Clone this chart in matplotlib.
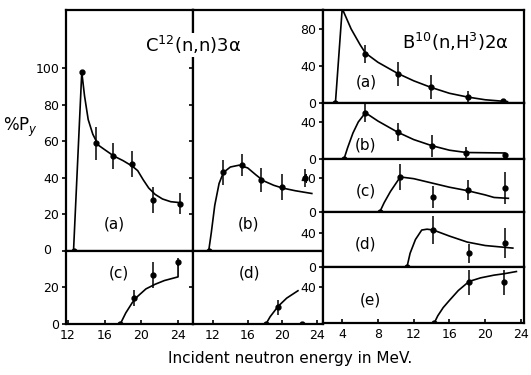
import matplotlib.pyplot as plt

# C12(n,n)3alpha -- panel (a), left column
ca_E = [12.6, 13.5, 15.05, 16.9, 19.0, 21.3, 24.2]
ca_P = [0, 98, 59, 52, 47.5, 28, 26]
ca_err = [0, 0, 9, 7, 7, 7, 6]
ca_curve_E = [12.6, 13.5, 13.8, 14.2, 14.7, 15.3, 16.0, 17.0, 18.0, 19.0, 19.6, 20.2, 20.8, 21.5, 22.3, 23.2, 24.2]
ca_curve_P = [0, 98, 85, 72, 64, 58, 55.5, 52, 49.5, 46.5, 44, 39, 34.5, 31, 28.5, 27, 26.5]

# panel (c), left column
cc_E = [17.7, 19.2, 21.3, 24.0]
cc_P = [0, 14, 26.5, 33.5]
cc_err = [0, 4.5, 7, 2]
cc_curve_E = [17.7, 18.3, 19.0, 19.6, 20.5, 21.5, 22.5, 24.0, 24.0]
cc_curve_P = [0, 6, 11.5, 15, 19, 21.5, 23.5, 25.5, 33.5]

# panel (b), middle column
cb_E = [11.5, 13.2, 15.35, 17.5, 19.95, 22.6]
cb_P = [0, 43, 47, 39, 35, 40]
cb_err = [0, 7, 6, 6.5, 7, 5]
cb_curve_E = [11.5, 11.8, 12.2, 12.7, 13.2, 14.0, 15.0, 16.0, 17.0, 17.8, 19.0, 20.0, 21.5, 23.4]
cb_curve_P = [0, 10, 25, 37, 43, 46, 47, 45.5, 41.5, 38.5, 36, 34.5, 33, 31.5]

# panel (d), middle column
cd_E = [18.1, 19.5, 22.3]
cd_P = [0, 9, 0]
cd_err = [0, 4, 0]
cd_curve_E = [18.1, 18.6, 19.5, 20.5, 21.8]
cd_curve_P = [0, 4, 9.5, 14, 18]

# B10(n,H3)2alpha -- panels (a)..(e), right column
ba_E = [3.24, 6.6, 10.2, 13.9, 18.05, 22.0]
ba_P = [0, 53, 31, 17, 6.5, 2]
ba_err = [0, 10, 13, 13, 6, 0]
ba_curve_E = [3.24, 4.0, 5.0, 6.0, 6.6, 8.0, 10.2, 12.0, 13.9, 16.0, 18.0, 20.0, 22.5]
ba_curve_P = [0, 102, 80, 63, 54, 44, 32, 24, 17, 10.5, 6.5, 3.5, 1.5]

bb_E = [4.2, 6.6, 10.2, 14.05, 17.9, 22.2]
bb_P = [0, 50, 29, 14, 6.5, 4.5]
bb_err = [0, 10, 10, 12, 6, 0]
bb_curve_E = [4.2, 4.6, 5.2, 5.8, 6.6, 8.0, 10.2, 12.0, 14.0, 16.0, 17.9, 22.2]
bb_curve_P = [0, 12, 28, 40, 50, 41, 29, 21, 14.5, 9.5, 7, 6.5]

bc_E = [8.2, 10.5, 14.15, 18.05, 22.2]
bc_P = [0, 41, 18, 26, 28]
bc_err = [0, 15, 13, 12, 19]
bc_curve_E = [8.2, 8.7, 9.4, 10.5, 12.0, 14.0, 16.0, 18.0, 20.0, 21.0, 22.6]
bc_curve_P = [0, 11, 24, 41, 39, 34, 29, 25, 20, 17, 16]

bd_E = [11.25, 14.2, 18.15, 22.2]
bd_P = [0, 43, 16, 28]
bd_err = [0, 16, 11, 17]
bd_curve_E = [11.25, 11.6, 12.2, 12.9, 13.5, 14.2, 16.0, 18.0, 20.0, 23.1]
bd_curve_P = [0, 16, 32, 43, 44, 43, 36, 29, 25, 22]

be_E = [14.3, 18.2, 22.1]
be_P = [0, 45, 45]
be_err = [0, 14, 14]
be_curve_E = [14.3, 14.7, 15.3, 16.0, 17.0, 18.2, 19.5, 21.0, 22.1, 23.5]
be_curve_P = [0, 8, 17, 25, 36, 46, 50, 53, 54.5, 57]


def panel(ax, E, P, err, cE, cP, xlim, ylim, yticks, xticks=None, label=None, lpos=None):
    ax.plot(cE, cP, color='black', lw=1.2)
    ax.errorbar(E, P, yerr=err, fmt='o', color='black', ms=3.5, elinewidth=1.1, capsize=0)
    ax.set_xlim(*xlim)
    ax.set_ylim(*ylim)
    ax.set_yticks(yticks)
    if xticks is None:
        ax.set_xticks([])
    else:
        ax.set_xticks(xticks)
    ax.tick_params(axis='y', direction='out', length=3, width=1.2, labelsize=9, pad=2)
    ax.tick_params(axis='x', direction='in', length=3, width=1.2, labelsize=9)
    for s in ax.spines.values():
        s.set_linewidth(1.6)
    if label:
        ax.text(lpos[0], lpos[1], label, fontsize=11, ha='center', va='center')


fig = plt.figure(figsize=(5.31, 3.75), dpi=100)
W, H = 531.0, 375.0


def box(x0, y0, x1, y1):
    return [x0 / W, 1 - y1 / H, (x1 - x0) / W, (y1 - y0) / H]


ax1 = fig.add_axes(box(66, 10, 193, 251))
panel(ax1, ca_E, ca_P, ca_err, ca_curve_E, ca_curve_P, (11.78, 25.63), (0, 132),
      [0, 20, 40, 60, 80, 100], label='(a)', lpos=(17.0, 15))
ax2 = fig.add_axes(box(66, 251, 193, 324))
panel(ax2, cc_E, cc_P, cc_err, cc_curve_E, cc_curve_P, (11.78, 25.63), (0, 39.5),
      [0, 20], xticks=[12, 16, 20, 24], label='(c)', lpos=(17.5, 27.5))
ax1.set_yticklabels(['', '20', '40', '60', '80', '100'])
ax1.text(-0.12, 0, '0', transform=ax1.transAxes, fontsize=9, ha='right', va='center')

ax3 = fig.add_axes(box(193, 10, 323, 251))
panel(ax3, cb_E, cb_P, cb_err, cb_curve_E, cb_curve_P, (9.69, 24.69), (0, 132),
      [20, 40, 60, 80, 100], label='(b)', lpos=(16.1, 15))
ax3.set_yticklabels([])
ax4 = fig.add_axes(box(193, 251, 323, 324))
panel(ax4, cd_E, cd_P, cd_err, cd_curve_E, cd_curve_P, (9.69, 24.69), (0, 39.5),
      [20], xticks=[12, 16, 20, 24], label='(d)', lpos=(16.2, 27.5))
ax4.set_yticklabels([])

rows = [(10, 103), (103, 159), (159, 212), (212, 267), (267, 323)]
specs = [
    (ba_E, ba_P, ba_err, ba_curve_E, ba_curve_P, 100.5, [0, 40, 80], '(a)', (6.7, 23)),
    (bb_E, bb_P, bb_err, bb_curve_E, bb_curve_P, 60.5, [0, 40], '(b)', (6.6, 15)),
    (bc_E, bc_P, bc_err, bc_curve_E, bc_curve_P, 62, [0, 40], '(c)', (6.6, 24)),
    (bd_E, bd_P, bd_err, bd_curve_E, bd_curve_P, 64, [0, 40], '(d)', (6.6, 27)),
    (be_E, be_P, be_err, be_curve_E, be_curve_P, 62, [40], '(e)', (7.1, 26)),
]
for i, ((y0, y1), sp) in enumerate(zip(rows, specs)):
    ax = fig.add_axes(box(323, y0, 524, y1))
    xt = [4, 8, 12, 16, 20, 24] if i == 4 else None
    panel(ax, sp[0], sp[1], sp[2], sp[3], sp[4], (1.85, 24.35), (0, sp[5]), sp[6],
          xticks=xt, label=sp[7], lpos=sp[8])

fig.text(193 / W, 1 - 45 / H, 'C$^{12}$(n,n)3α', fontsize=13, ha='center', va='center',
         bbox=dict(facecolor='white', edgecolor='none', pad=1))
fig.text(455 / W, 1 - 42 / H, 'B$^{10}$(n,H$^3$)2α', fontsize=13, ha='center', va='center')
fig.text(21 / W, 1 - 127 / H, '%P$_y$', fontsize=12, ha='center', va='center')
fig.text(290 / W, 1 - 358 / H, 'Incident neutron energy in MeV.', fontsize=11, ha='center', va='center')

fig.savefig('out.png', dpi=100)
